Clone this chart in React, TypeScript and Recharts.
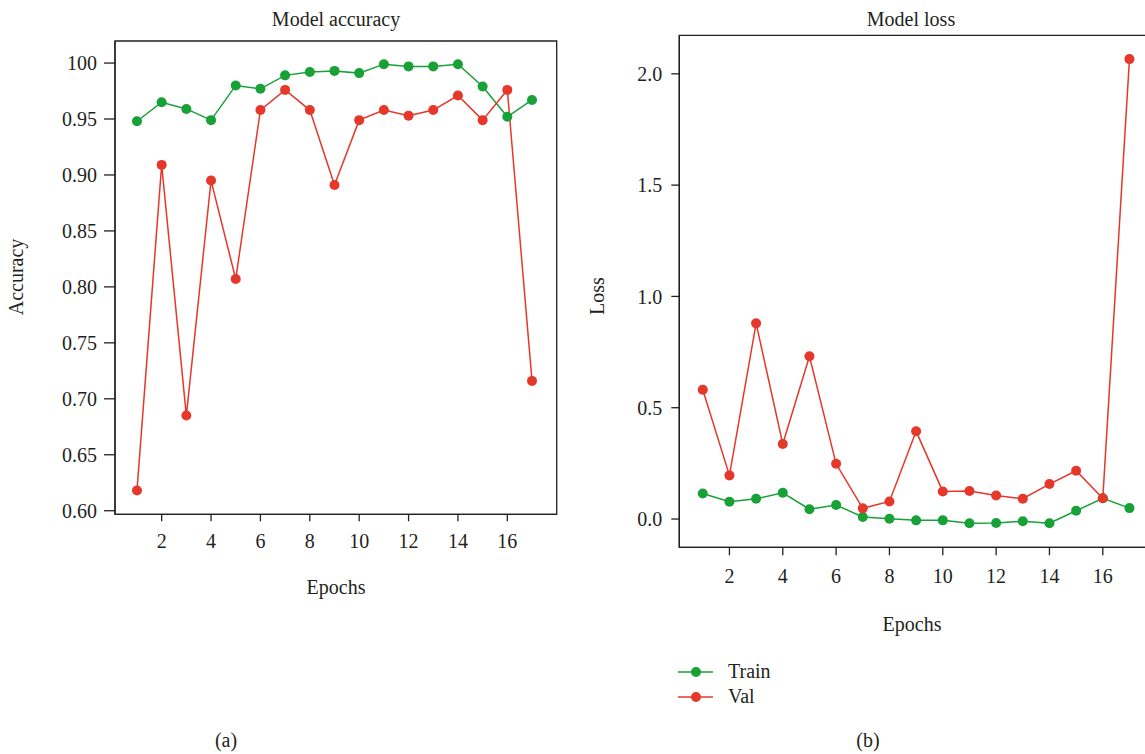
import { LineChart, Line, XAxis, YAxis, ReferenceArea } from "recharts";

const epochs = [1, 2, 3, 4, 5, 6, 7, 8, 9, 10, 11, 12, 13, 14, 15, 16, 17];

const trainAcc = [0.948, 0.965, 0.959, 0.949, 0.98, 0.977, 0.989, 0.992, 0.993, 0.991, 0.999, 0.997, 0.997, 0.999, 0.979, 0.952, 0.967];
const valAcc = [0.618, 0.909, 0.685, 0.895, 0.807, 0.958, 0.976, 0.958, 0.891, 0.949, 0.958, 0.953, 0.958, 0.971, 0.949, 0.976, 0.716];

const trainLoss = [0.115, 0.078, 0.091, 0.118, 0.044, 0.063, 0.009, 0.001, -0.006, -0.006, -0.019, -0.018, -0.01, -0.019, 0.037, 0.093, 0.049];
const valLoss = [0.581, 0.196, 0.879, 0.337, 0.731, 0.248, 0.048, 0.079, 0.394, 0.124, 0.126, 0.106, 0.091, 0.157, 0.217, 0.093, 2.066];

const epochTicks = [2, 4, 6, 8, 10, 12, 14, 16];
const accTicks = [0.6, 0.65, 0.7, 0.75, 0.8, 0.85, 0.9, 0.95, 1.0];
const lossTicks = [0, 0.5, 1.0, 1.5, 2.0];

const GREEN = "#17a136";
const RED = "#e5372a";
const INK = "#231f20";
const FONT = "'Liberation Serif', 'Times New Roman', serif";
const FS = 20;

const accX: [number, number] = [0.11, 18];
const accY: [number, number] = [0.5968, 1.0197];
const lossX: [number, number] = [0.12, 17.8];
const lossY: [number, number] = [-0.127, 2.173];

const accData = epochs.map((e, i) => ({ epoch: e, train: trainAcc[i], val: valAcc[i] }));
const lossData = epochs.map((e, i) => ({ epoch: e, train: trainLoss[i], val: valLoss[i] }));

const tickStyle = { fontSize: FS, fill: INK, fontFamily: FONT };
const axisStroke = { stroke: INK, strokeWidth: 1.3 };

function Txt({ x, y, text, rotate }: { x: number; y: number; text: string; rotate?: boolean }) {
  return (
    <div
      style={{
        position: "absolute",
        left: x,
        top: y,
        transform: `translate(-50%, -50%)${rotate ? " rotate(-90deg)" : ""}`,
        fontFamily: FONT,
        fontSize: FS,
        color: INK,
        whiteSpace: "nowrap",
      }}
    >
      {text}
    </div>
  );
}

function LegendBox() {
  const items = [
    { name: "Train", color: GREEN },
    { name: "Val", color: RED },
  ];
  return (
    <div style={{ position: "absolute", left: 678, top: 659 }}>
      {items.map((it) => (
        <div key={it.name} style={{ display: "flex", alignItems: "center", height: 25 }}>
          <svg width={36} height={12}>
            <line x1={0} y1={6} x2={35} y2={6} stroke={it.color} strokeWidth={1.5} />
            <circle cx={18} cy={6} r={5} fill={it.color} />
          </svg>
          <span style={{ marginLeft: 14, fontFamily: FONT, fontSize: FS, color: INK }}>{it.name}</span>
        </div>
      ))}
    </div>
  );
}

export default function App() {
  return (
    <div style={{ position: "absolute", left: 0, top: 0, width: 1145, height: 754, overflow: "hidden", background: "#fff" }}>
      <div style={{ position: "absolute", left: 0, top: 0 }}>
        <LineChart width={600} height={600} data={accData} margin={{ top: 41, right: 43.3, left: 55, bottom: 45.7 }}>
          <XAxis
            dataKey="epoch"
            type="number"
            domain={accX}
            allowDataOverflow
            ticks={epochTicks}
            height={40}
            tick={tickStyle}
            tickSize={7}
            tickMargin={12}
            axisLine={axisStroke}
            tickLine={axisStroke}
          />
          <YAxis
            type="number"
            domain={accY}
            allowDataOverflow
            ticks={accTicks}
            width={60}
            tick={tickStyle}
            tickSize={11}
            tickMargin={7}
            axisLine={axisStroke}
            tickLine={axisStroke}
            tickFormatter={(v: number) => (v >= 0.999 ? "100" : v.toFixed(2))}
          />
          <ReferenceArea x1={accX[0]} x2={accX[1]} y1={accY[0]} y2={accY[1]} fill="none" fillOpacity={0} stroke={INK} strokeWidth={1.3} />
          <Line dataKey="train" stroke={GREEN} strokeWidth={1.5} dot={{ r: 5, fill: GREEN, stroke: GREEN, strokeWidth: 0 }} isAnimationActive={false} />
          <Line dataKey="val" stroke={RED} strokeWidth={1.5} dot={{ r: 5, fill: RED, stroke: RED, strokeWidth: 0 }} isAnimationActive={false} />
        </LineChart>
      </div>

      <div style={{ position: "absolute", left: 580, top: 0 }}>
        <LineChart width={580} height={600} data={lossData} margin={{ top: 35.3, right: 9.2, left: 39.3, bottom: 12.7 }}>
          <XAxis
            dataKey="epoch"
            type="number"
            domain={lossX}
            allowDataOverflow
            ticks={epochTicks}
            height={40}
            tick={tickStyle}
            tickSize={8}
            tickMargin={13}
            axisLine={axisStroke}
            tickLine={axisStroke}
          />
          <YAxis
            type="number"
            domain={lossY}
            allowDataOverflow
            ticks={lossTicks}
            width={60}
            tick={tickStyle}
            tickSize={8}
            tickMargin={9}
            axisLine={axisStroke}
            tickLine={axisStroke}
            tickFormatter={(v: number) => v.toFixed(1)}
          />
          <ReferenceArea x1={lossX[0]} x2={lossX[1]} y1={lossY[0]} y2={lossY[1]} fill="none" fillOpacity={0} stroke={INK} strokeWidth={1.3} />
          <Line dataKey="train" stroke={GREEN} strokeWidth={1.5} dot={{ r: 5, fill: GREEN, stroke: GREEN, strokeWidth: 0 }} isAnimationActive={false} />
          <Line dataKey="val" stroke={RED} strokeWidth={1.5} dot={{ r: 5, fill: RED, stroke: RED, strokeWidth: 0 }} isAnimationActive={false} />
        </LineChart>
      </div>

      <LegendBox />

      <Txt x={336} y={19} text="Model accuracy" />
      <Txt x={336} y={587} text="Epochs" />
      <Txt x={16} y={277} text="Accuracy" rotate />
      <Txt x={226} y={740} text="(a)" />

      <Txt x={911} y={19} text="Model loss" />
      <Txt x={912} y={624} text="Epochs" />
      <Txt x={597} y={296} text="Loss" rotate />
      <Txt x={868} y={740} text="(b)" />
    </div>
  );
}
